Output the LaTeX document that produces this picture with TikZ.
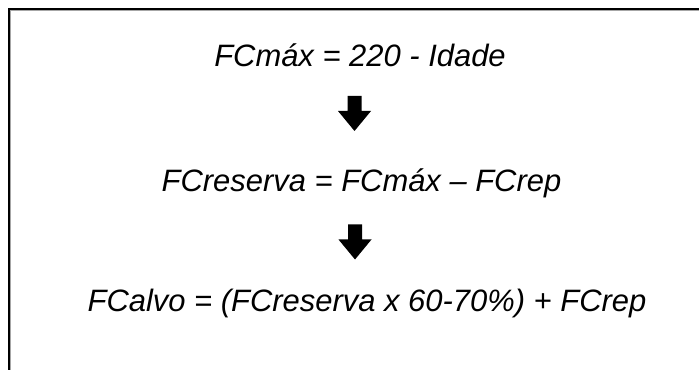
\documentclass[tikz,border=0pt]{standalone}
\usepackage{fontspec}
\setmainfont{Liberation Sans}
\begin{document}
\begin{tikzpicture}[x=0.75pt,y=-0.75pt,
  formula/.style={anchor=base,inner sep=0pt,font=\fontsize{23.2pt}{28pt}\selectfont\itshape},
  blockarrow/.pic={\fill[black] (-7,0) -- (7,0) -- (7,15) -- (16.5,15) -- (0,35) -- (-16.5,15) -- (-7,15) -- cycle;}]
\useasboundingbox[fill=white] (0,0) rectangle (699,370);
% frame (only top and left edges visible)
\draw[gray!70,line width=1.2pt] (10.6,370) -- (10.6,10.6) -- (699,10.6);
\draw[black,line width=1.3pt] (8.8,370) -- (8.8,8.8) -- (699,8.8);
\node[formula] (l1) at (360,67) {FCmáx = 220 - Idade};
\node[formula] (l2) at (361.5,191.7) {FCreserva = FCmáx – FCrep};
\node[formula] (l3) at (367,311.7) {FCalvo = (FCreserva x 60-70\%) + FCrep};
\pic (a1) at (354.5,96) {blockarrow};
\pic (a2) at (355,224.5) {blockarrow};
\end{tikzpicture}
\end{document}
